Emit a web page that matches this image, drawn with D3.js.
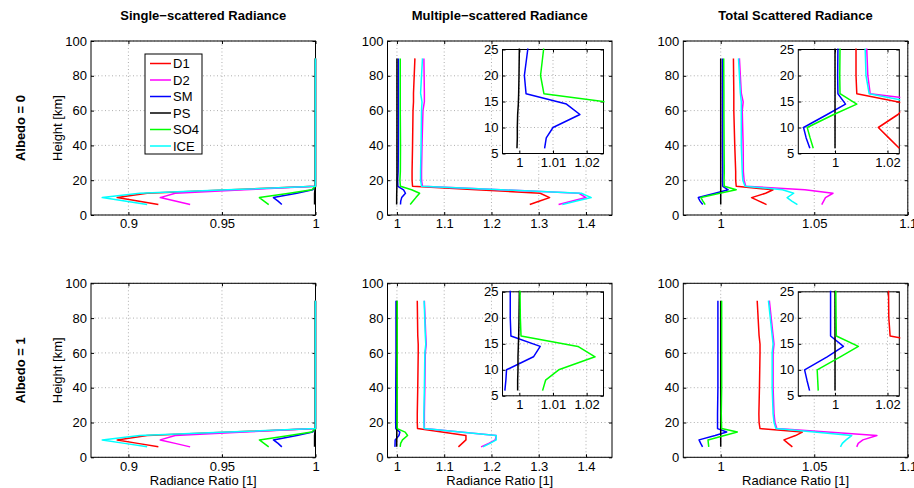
<!DOCTYPE html>
<html>
<head>
<meta charset="utf-8">
<script src="https://cdn.jsdelivr.net/npm/d3@7"></script>
<style>
  body { margin: 0; background: #fff; }
  svg text { font-family: "Liberation Sans", Arial, Helvetica, sans-serif; }
</style>
</head>
<body>
<svg id="fig" width="914" height="488"></svg>
<script>
// tangent heights [km] shared by every profile
const heights = [6, 8, 10, 12.5, 14.5, 16.5, 20, 25, 40, 60, 65, 70, 90];

const seriesNames  = ["D1", "D2", "SM", "PS", "SO4", "ICE"];
const seriesColors = ["#ff0000", "#ff00ff", "#0000ff", "#000000", "#00ff00", "#00ffff"];

// one row per series, in the order of seriesNames
const singleScattered = [
    [0.916, 0.905, 0.894, 0.910, 0.955, 1, 1, 1, 1, 1, 1, 1, 1],
    [0.933, 0.925, 0.917, 0.925, 0.962, 1, 1, 1, 1, 1, 1, 1, 1],
    [0.982, 0.980, 0.9775, 0.990, 0.9985, 1, 1, 1, 1, 1, 1, 1, 1],
    [0.9995, 0.9995, 0.9995, 0.9995, 0.9997, 1, 1, 1, 1, 1, 1, 1, 1],
    [0.975, 0.9725, 0.970, 0.986, 0.998, 1, 1, 1, 1, 1, 1, 1, 1],
    [0.910, 0.898, 0.886, 0.906, 0.953, 1, 1, 1, 1, 1, 1, 1, 1]
];

const multipleAlbedo0 = [
    [1.281, 1.302, 1.323, 1.303, 1.168, 1.033, 1.032, 1.032, 1.033, 1.034, 1.035, 1.035, 1.038],
    [1.342, 1.371, 1.400, 1.385, 1.220, 1.054, 1.052, 1.052, 1.053, 1.055, 1.058, 1.058, 1.057],
    [1.0075, 1.008, 1.010, 1.018, 1.014, 1.002, 1.0015, 1.0025, 1.003, 1.003, 1.003, 1.003, 1.003],
    [0.9993, 0.9994, 0.9994, 0.9995, 0.9997, 0.9998, 0.9999, 1.0, 1.0, 1.0, 1.0, 1.0, 1.0],
    [1.028, 1.034, 1.040, 1.048, 1.031, 1.0073, 1.0063, 1.0072, 1.0075, 1.007, 1.007, 1.007, 1.007],
    [1.350, 1.380, 1.411, 1.390, 1.220, 1.052, 1.050, 1.050, 1.051, 1.052, 1.053, 1.050, 1.054]
];

const totalAlbedo0 = [
    [1.0245, 1.0205, 1.0165, 1.024, 1.028, 1.0083, 1.008, 1.008, 1.0075, 1.007, 1.007, 1.007, 1.0068],
    [1.054, 1.055, 1.056, 1.060, 1.045, 1.0134, 1.0125, 1.0121, 1.012, 1.0115, 1.012, 1.011, 1.010],
    [0.9904, 0.989, 0.988, 0.997, 1.004, 1.0011, 1.001, 1.0011, 1.001, 1.001, 1.001, 1.001, 1.001],
    [1.0, 1.0, 1.0, 1.0, 1.0, 1.0, 1.0, 1.0, 1.0, 1.0, 1.0, 1.0, 1.0],
    [0.9917, 0.9905, 0.9894, 0.9995, 1.0083, 1.0019, 1.0018, 1.0019, 1.0018, 1.0017, 1.0017, 1.0017, 1.0016],
    [1.041, 1.038, 1.0355, 1.039, 1.033, 1.013, 1.0118, 1.0115, 1.011, 1.011, 1.011, 1.0105, 1.0095]
];

const multipleAlbedo1 = [
    [1.130, 1.138, 1.146, 1.146, 1.095, 1.0435, 1.043, 1.043, 1.044, 1.045, 1.045, 1.044, 1.043],
    [1.178, 1.194, 1.208, 1.210, 1.134, 1.058, 1.058, 1.058, 1.059, 1.060, 1.062, 1.061, 1.058],
    [0.9957, 0.996, 0.9962, 1.0042, 1.0062, 0.9975, 0.9973, 0.9973, 0.9975, 0.998, 0.998, 0.998, 0.998],
    [0.9995, 0.9995, 0.9996, 0.9996, 0.9997, 0.9998, 0.9999, 1.0, 1.0, 1.0, 1.0, 1.0, 1.0],
    [1.0069, 1.0078, 1.0117, 1.0225, 1.0174, 1.0005, 1.0003, 1.0002, 1.0005, 1.0005, 1.0005, 1.0005, 1.0005],
    [1.182, 1.197, 1.210, 1.210, 1.134, 1.0575, 1.057, 1.057, 1.058, 1.059, 1.061, 1.060, 1.0575]
];

const totalAlbedo1 = [
    [1.0383, 1.036, 1.0338, 1.040, 1.0436, 1.021, 1.0205, 1.0204, 1.0207, 1.021, 1.021, 1.0205, 1.0195],
    [1.0727, 1.0735, 1.076, 1.0835, 1.057, 1.030, 1.029, 1.0285, 1.028, 1.028, 1.0285, 1.028, 1.026],
    [0.9903, 0.9893, 0.9884, 0.997, 1.0032, 0.9983, 0.9983, 0.9983, 0.9985, 0.9985, 0.9985, 0.9985, 0.9985],
    [1.0, 1.0, 1.0, 1.0, 1.0, 1.0, 1.0, 1.0, 1.0, 1.0, 1.0, 1.0, 1.0],
    [0.9936, 0.9934, 0.9932, 1.002, 1.0089, 1.0005, 1.0004, 1.0003, 1.0005, 1.0005, 1.0005, 1.0005, 1.0005],
    [1.064, 1.065, 1.067, 1.070, 1.050, 1.0295, 1.0285, 1.028, 1.0275, 1.0275, 1.028, 1.0275, 1.0255]
];

const panelTitles = ["Single\u2212scattered Radiance", "Multiple\u2212scattered Radiance", "Total Scattered Radiance"];
const rowLabels   = ["Albedo = 0", "Albedo = 1"];

const heightTicks        = [0, 20, 40, 60, 80, 100];
const insetHeightTicks   = [5, 10, 15, 20, 25];
const singleTicks        = [0.9, 0.95, 1];
const multipleTicks      = [1, 1.1, 1.2, 1.3, 1.4];
const totalTicks         = [1, 1.05, 1.1];
const multipleInsetTicks = [1, 1.01, 1.02];
const totalInsetTicks    = [1, 1.02];


const FONT = 13;
const TICK = 3;
const fmt = d3.format("~g");
const svg = d3.select("#fig");
var clipCount = 0;

function drawAxes (box, xDomain, xTicks, yDomain, yTicks, data, isInset) {
    var x = d3.scaleLinear().domain(xDomain).range([box.x, box.x + box.w]);
    var y = d3.scaleLinear().domain(yDomain).range([box.y + box.h, box.y]);
    var g = svg.append("g");

    if (isInset) {
        g.append("rect")
         .attr("x", box.x).attr("y", box.y)
         .attr("width", box.w).attr("height", box.h)
         .style("fill", "white");
    }

    // dotted grid
    g.selectAll(null).data(xTicks).enter().append("line")
     .attr("x1", d => x(d)).attr("x2", d => x(d))
     .attr("y1", box.y).attr("y2", box.y + box.h)
     .style("stroke", "#9a9a9a").style("stroke-width", 0.8)
     .style("stroke-dasharray", "1,2.5");
    g.selectAll(null).data(yTicks).enter().append("line")
     .attr("x1", box.x).attr("x2", box.x + box.w)
     .attr("y1", d => y(d)).attr("y2", d => y(d))
     .style("stroke", "#9a9a9a").style("stroke-width", 0.8)
     .style("stroke-dasharray", "1,2.5");

    // axes with inward ticks on all four sides (drawn under the data, like MATLAB)
    var bottom = g.append("g").attr("transform", "translate(0," + (box.y + box.h) + ")")
        .call(d3.axisBottom(x).tickValues(xTicks).tickSizeInner(-TICK).tickSizeOuter(0)
              .tickPadding(4).tickFormat(fmt));
    var left = g.append("g").attr("transform", "translate(" + box.x + ",0)")
        .call(d3.axisLeft(y).tickValues(yTicks).tickSizeInner(-TICK).tickSizeOuter(0)
              .tickPadding(4).tickFormat(fmt));
    var top = g.append("g").attr("transform", "translate(0," + box.y + ")")
        .call(d3.axisTop(x).tickValues(xTicks).tickSizeInner(-TICK).tickSizeOuter(0).tickFormat(""));
    var right = g.append("g").attr("transform", "translate(" + (box.x + box.w) + ",0)")
        .call(d3.axisRight(y).tickValues(yTicks).tickSizeInner(-TICK).tickSizeOuter(0).tickFormat(""));

    [bottom, left, top, right].forEach(function (a) {
        a.select(".domain").remove();
        a.selectAll("line").style("stroke", "black");
        a.selectAll("text").style("font-family", '"Liberation Sans", Arial, sans-serif')
         .style("font-size", FONT + "px").style("fill", "black");
    });

    g.append("rect")
     .attr("x", box.x).attr("y", box.y)
     .attr("width", box.w).attr("height", box.h)
     .style("fill", "none").style("stroke", "black").style("stroke-width", 1);

    // profiles, clipped to the axes
    var clipId = "clip" + (clipCount++);
    svg.append("clipPath").attr("id", clipId).append("rect")
       .attr("x", box.x - 1).attr("y", box.y - 1)
       .attr("width", box.w + 2).attr("height", box.h + 2);

    var line = d3.line().x(d => x(d[0])).y(d => y(d[1]));
    data.forEach(function (vals, i) {
        g.append("path")
         .datum(vals.map((v, j) => [v, heights[j]]))
         .attr("clip-path", "url(#" + clipId + ")")
         .attr("d", line)
         .style("fill", "none")
         .style("stroke", seriesColors[i])
         .style("stroke-width", 1.5)
         .style("stroke-linejoin", "round");
    });
}

function drawLegend (x0, y0) {
    var g = svg.append("g");
    g.append("rect")
     .attr("x", x0).attr("y", y0).attr("width", 57).attr("height", 100)
     .style("fill", "white").style("stroke", "black").style("stroke-width", 1);
    seriesNames.forEach(function (name, i) {
        var yy = y0 + 9.5 + i * 16.5;
        g.append("line")
         .attr("x1", x0 + 5).attr("x2", x0 + 26)
         .attr("y1", yy).attr("y2", yy)
         .style("stroke", seriesColors[i]).style("stroke-width", 1.5);
        g.append("text")
         .attr("x", x0 + 28).attr("y", yy)
         .attr("dy", "0.35em")
         .style("font-size", FONT + "px")
         .text(name);
    });
}

// layout of the 2 x 3 grid
var colX = [91, 387.5, 683.3];
var rowY = [41, 283.3];
var W = 224.5, H = 174;

var rowData = [
    [singleScattered, multipleAlbedo0, totalAlbedo0],
    [singleScattered, multipleAlbedo1, totalAlbedo1]
];
var mainDomains = [[0.88, 1], [0.98, 1.455], [0.98, 1.1]];
var mainTicks = [singleTicks, multipleTicks, totalTicks];
var insetDomains = [null, [0.995, 1.025], [0.986, 1.0245]];
var insetTicks = [null, multipleInsetTicks, totalInsetTicks];

for (var r = 0; r < 2; r++) {
    for (var c = 0; c < 3; c++) {
        var box = {x: colX[c], y: rowY[r], w: W, h: H};
        drawAxes(box, mainDomains[c], mainTicks[c], [0, 100], heightTicks, rowData[r][c], false);

        if (insetDomains[c]) {
            var ibox = {x: colX[c] + 115, y: rowY[r] + 8.5, w: 101, h: 104};
            drawAxes(ibox, insetDomains[c], insetTicks[c], [5, 25], insetHeightTicks, rowData[r][c], true);
        }
    }

    // row labels
    var cy = rowY[r] + H / 2;
    svg.append("text")
       .attr("transform", "translate(25," + cy + ") rotate(-90)")
       .style("text-anchor", "middle").style("font-weight", "bold")
       .style("font-size", FONT + "px")
       .text(rowLabels[r]);
    svg.append("text")
       .attr("transform", "translate(62," + cy + ") rotate(-90)")
       .style("text-anchor", "middle")
       .style("font-size", FONT + "px")
       .text("Height [km]");
}

// titles and x labels
for (var c = 0; c < 3; c++) {
    svg.append("text")
       .attr("x", colX[c] + W / 2).attr("y", 20)
       .style("text-anchor", "middle").style("font-weight", "bold")
       .style("font-size", FONT + "px")
       .text(panelTitles[c]);
    svg.append("text")
       .attr("x", colX[c] + W / 2).attr("y", 485)
       .style("text-anchor", "middle")
       .style("font-size", FONT + "px")
       .text("Radiance Ratio [1]");
}

drawLegend(145, 54);
</script>
</body>
</html>
